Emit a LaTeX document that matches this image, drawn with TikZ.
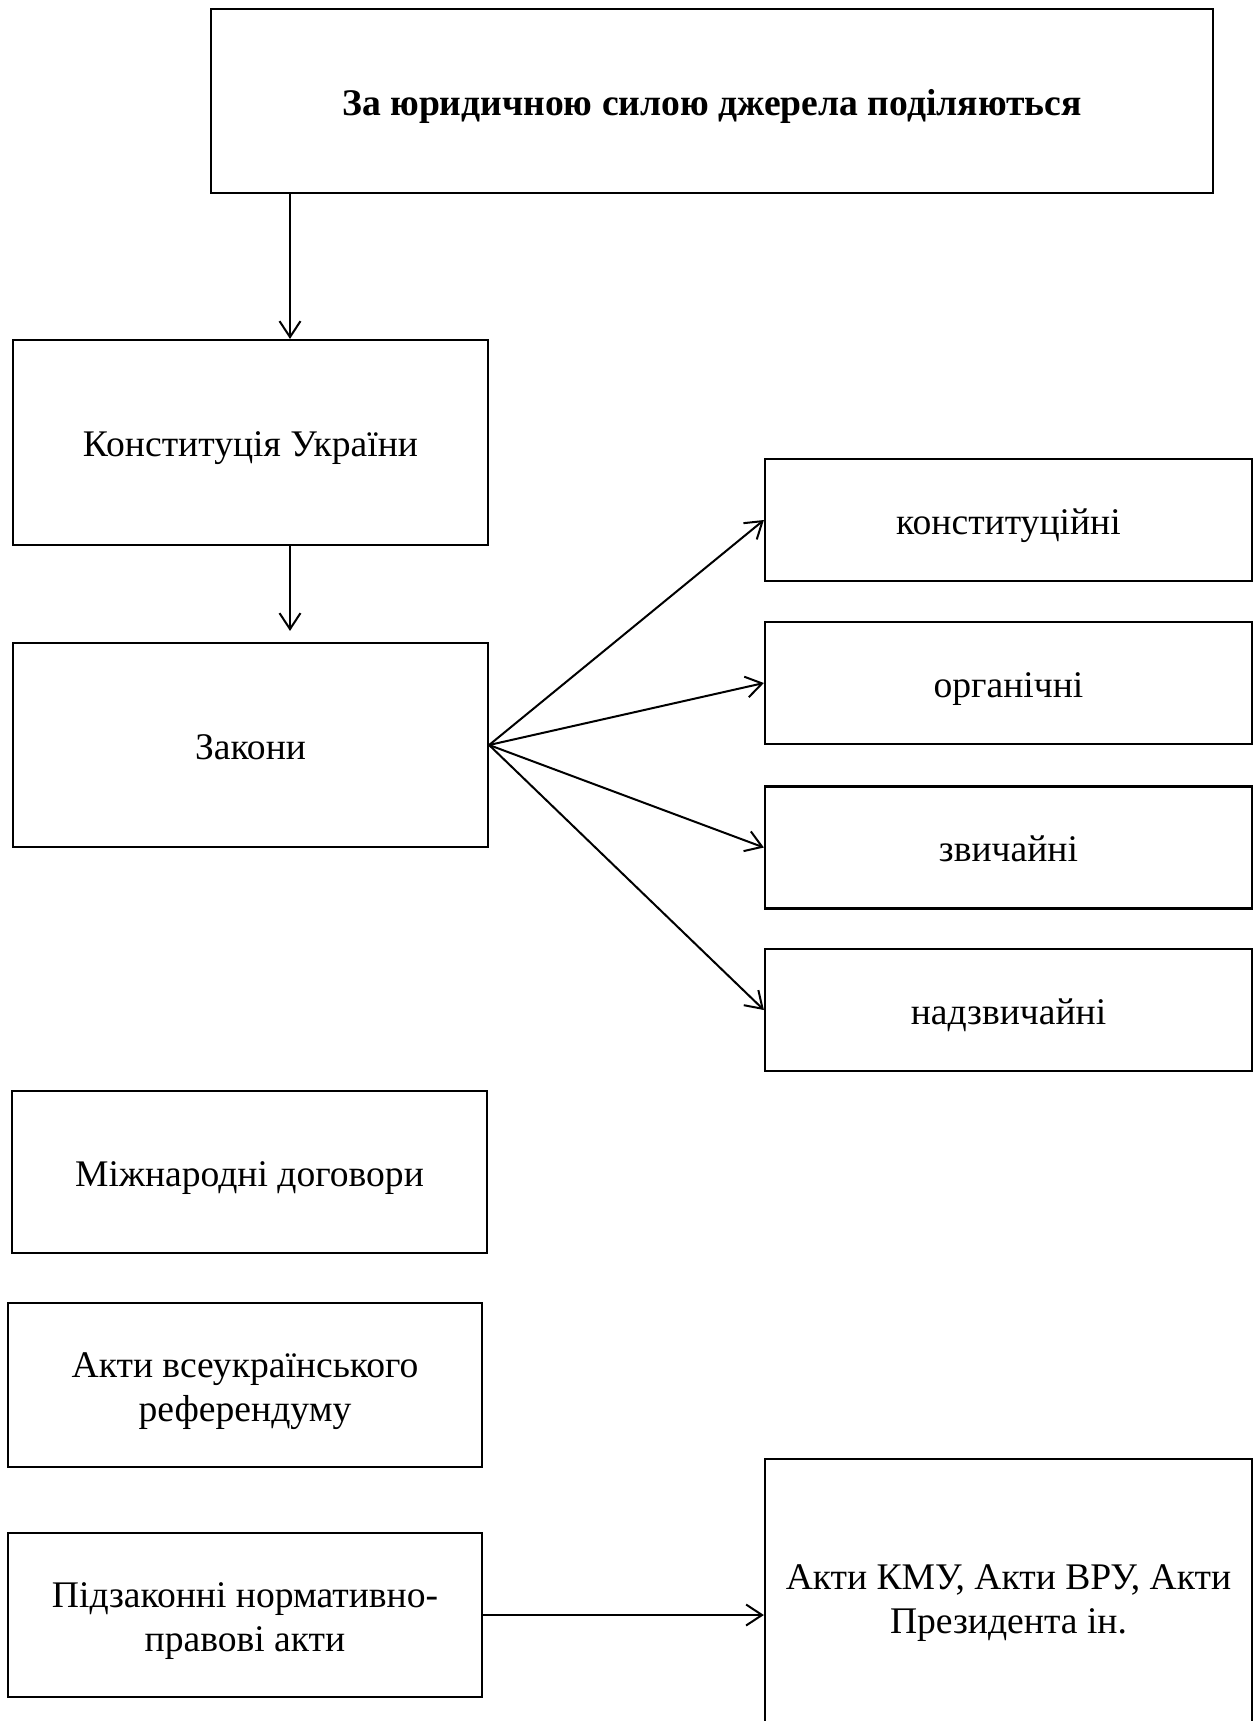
\documentclass[tikz,border=0pt]{standalone}
\usepackage{fontspec}
\setmainfont{Liberation Serif}
\usetikzlibrary{arrows.meta}
\newcommand{\twolines}[2]{\begin{tabular}[t]{@{}c@{}}#1\\#2\end{tabular}}
\begin{document}
\begin{tikzpicture}[x=0.5pt,y=-0.5pt,
  txt/.style={font=\fontsize{18.8}{22}\selectfont},
  box/.style={draw, line width=1.1pt, align=center, inner sep=0pt, txt, text height=16.6pt, text depth=2.4pt},
  twobox/.style={box, text height=2pt, text depth=9.8pt},
  leftbox/.style={box, minimum width=237.5pt},
  rightbox/.style={box, minimum width=243.5pt, minimum height=61pt},
  arr/.style={-{Straight Barb[length=8pt,width=10.5pt,line width=1pt]}, line width=1pt}]
\useasboundingbox (0,0) rectangle (1259,1721);
\node[box, minimum width=501pt, minimum height=92pt, font=\fontsize{18.8}{22}\selectfont\bfseries] (top) at (712,101) {За юридичною силою джерела поділяються};
\node[leftbox, minimum height=102.5pt] (konst) at (250.5,442.5) {Конституція України};
\node[leftbox, minimum height=102pt] (zakony) at (250.5,745) {Закони};
\node[rightbox] (r1) at (1008.5,520) {конституційні};
\node[rightbox] (r2) at (1008.5,683) {органічні};
\node[rightbox] (r3) at (1008.5,847.5) {звичайні};
\node[rightbox] (r4) at (1008.5,1010) {надзвичайні};
\node[leftbox, minimum height=81pt] (mizh) at (249.5,1172) {Міжнародні договори};
\node[twobox, minimum width=237pt, minimum height=82pt] (ref) at (245,1385) {\twolines{Акти всеукраїнського}{референдуму}};
\node[twobox, minimum width=237pt, minimum height=82pt] (pidz) at (245,1615) {\twolines{Підзаконні нормативно-}{правові акти}};
\node[twobox, minimum width=243.5pt, minimum height=138pt] (akty) at (1008.5,1597) {\twolines{Акти КМУ, Акти ВРУ, Акти}{Президента ін.}};
\coordinate (ax) at (290,0);
\draw[arr] (top.south -| ax) -- (konst.north -| ax);
\draw[arr] (konst.south -| ax) -- ([yshift=5.5pt]zakony.north -| ax);
\foreach \r in {r1,r2,r3,r4}
  \draw[arr] (zakony.east) -- (\r.west);
\draw[arr] (pidz.east) -- (akty.west |- pidz.east);
\end{tikzpicture}
\end{document}
